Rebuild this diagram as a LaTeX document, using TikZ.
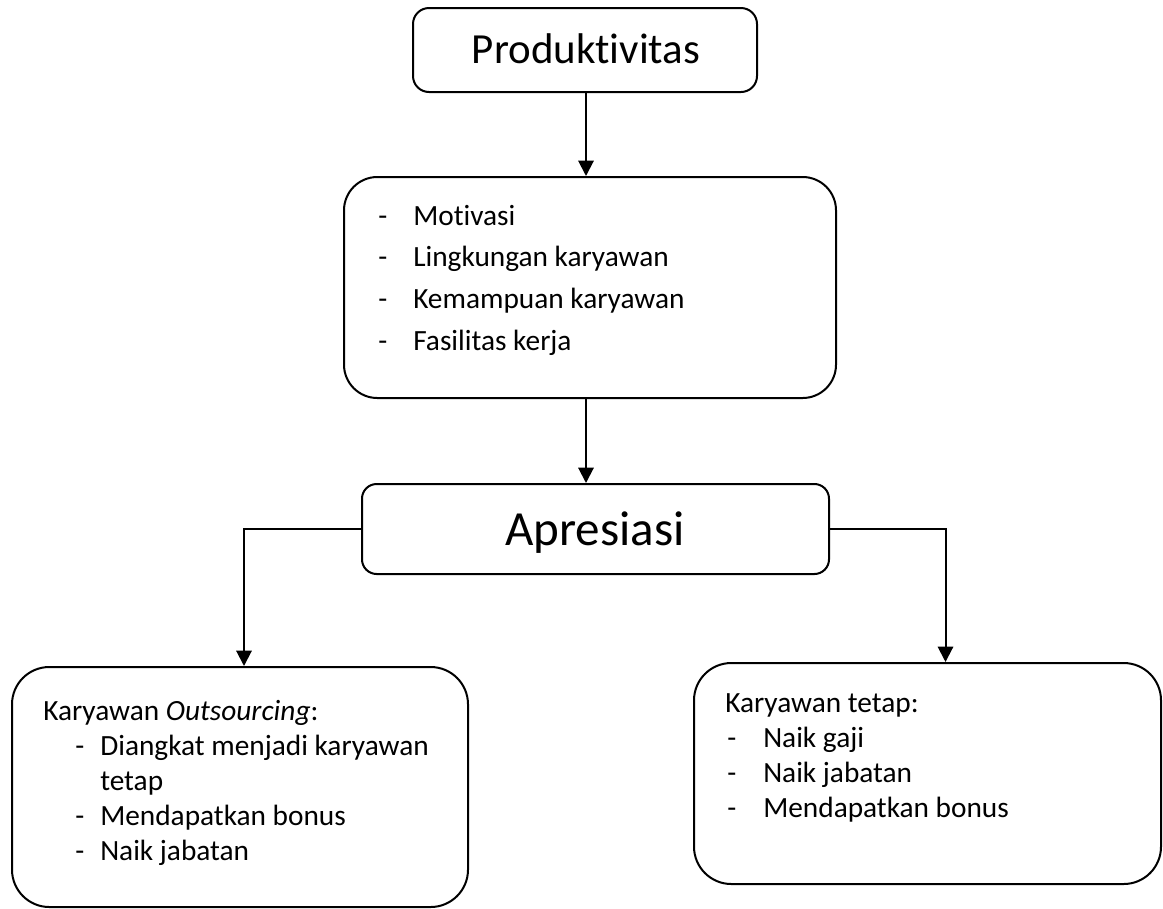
\documentclass[tikz,border=0pt]{standalone}
\usepackage{fontspec}
\setmainfont{Carlito}[Ligatures=NoCommon]
\usetikzlibrary{arrows.meta}
\begin{document}
\begin{tikzpicture}[x=0.75pt,y=-0.75pt,
  box/.style={draw=black,line width=1.5pt,rectangle,inner sep=0pt,fill=white},
  txt/.style={inner sep=0pt,anchor=base west,align=left},
  ttl/.style={inner sep=0pt,anchor=base},
  arr/.style={draw=black,line width=1.5pt,-{Triangle[width=11.5pt,length=11.5pt]}}]
\useasboundingbox[fill=white] (0,0) rectangle (1163,908);
% boxes
\node[box,minimum width=258pt,minimum height=63pt,rounded corners=12pt] (p) at (585,50) {};
\node[box,minimum width=369pt,minimum height=165.75pt,rounded corners=25pt] (m) at (590,287.5) {};
\node[box,minimum width=350.25pt,minimum height=67.5pt,rounded corners=11pt] (a) at (595.5,529) {};
\node[box,minimum width=342pt,minimum height=180pt,rounded corners=28pt] (o) at (240,787) {};
\node[box,minimum width=350.25pt,minimum height=165.75pt,rounded corners=28pt] (t) at (927.5,773.5) {};
% texts
\node[ttl] (pt) at (586,63) {\fontsize{32.2pt}{38pt}\selectfont Produktivitas};
\node[ttl] (at) at (595,545) {\fontsize{36.8pt}{43pt}\selectfont Apresiasi};
\node[txt] (mt) at (378,225) {\fontsize{22pt}{31.25pt}\selectfont
  \begin{tabular}[t]{@{}l@{}}
  \makebox[26.25pt][l]{-}Motivasi\\
  \makebox[26.25pt][l]{-}Lingkungan karyawan\\
  \makebox[26.25pt][l]{-}Kemampuan karyawan\\
  \makebox[26.25pt][l]{-}Fasilitas kerja
  \end{tabular}};
\node[txt] (ot) at (43,720) {\fontsize{22pt}{26.25pt}\selectfont
  \begin{tabular}[t]{@{}l@{}}
  Karyawan \textit{Outsourcing}:\\
  \hspace*{24pt}\makebox[18.75pt][l]{-}Diangkat menjadi karyawan\\
  \hspace*{42.75pt}tetap\\
  \hspace*{24pt}\makebox[18.75pt][l]{-}Mendapatkan bonus\\
  \hspace*{24pt}\makebox[18.75pt][l]{-}Naik jabatan
  \end{tabular}};
\node[txt] (tt) at (725,712) {\fontsize{22pt}{26.25pt}\selectfont
  \begin{tabular}[t]{@{}l@{}}
  Karyawan tetap:\\
  \hspace*{1.5pt}\makebox[27pt][l]{-}Naik gaji\\
  \hspace*{1.5pt}\makebox[27pt][l]{-}Naik jabatan\\
  \hspace*{1.5pt}\makebox[27pt][l]{-}Mendapatkan bonus
  \end{tabular}};
% connectors
\coordinate (c1) at (586,0);
\draw[arr] (p.south -| c1) -- (m.north -| c1);
\draw[arr] (m.south -| c1) -- (a.north -| c1);
\draw[arr] (a.west) -| ([xshift=3pt]o.north);
\draw[arr] (a.east) -| ([xshift=13.5pt]t.north);
\end{tikzpicture}
\end{document}
